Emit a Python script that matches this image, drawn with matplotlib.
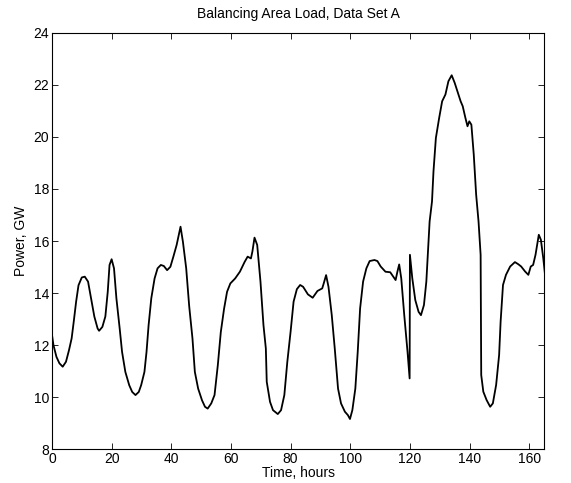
import matplotlib

matplotlib.use("Agg")
import matplotlib.pyplot as plt

# hours and load (GW)
hours = [
    0.0, 0.5, 1.5, 2.5, 3.6, 4.7, 5.7, 6.6, 7.3, 8.1, 8.9, 10.0, 11.0, 12.1,
    13.1, 14.2, 15.3, 15.8, 16.9, 17.9, 18.7, 19.3, 20.0, 20.8, 21.6, 22.7,
    23.5, 24.6, 25.9, 26.9, 28.0, 29.1, 29.9, 31.0, 31.7, 32.4, 33.3, 34.4,
    35.4, 36.5, 37.5, 38.6, 39.7, 40.7, 41.8, 43.1, 43.9, 45.0, 46.0, 47.1,
    47.9, 49.0, 50.3, 51.3, 52.2, 53.4, 54.5, 55.6, 56.6, 57.7, 58.7, 59.8,
    61.4, 63.0, 64.6, 65.6, 66.7, 67.2, 67.9, 68.8, 69.9, 70.9, 71.7, 72.0,
    73.1, 74.1, 75.7, 76.8, 77.9, 78.9, 80.0, 81.0, 82.1, 83.2, 84.2, 85.8,
    87.4, 89.0, 90.6, 91.1, 91.9, 92.7, 93.8, 94.8, 95.9, 96.9, 98.2, 99.2,
    99.9, 100.7, 101.7, 102.5, 103.3, 104.3, 105.4, 106.5, 108.1, 109.1,
    110.2, 111.8, 113.4, 114.4, 115.2, 115.8, 116.4, 117.1, 118.1, 119.2,
    119.9, 120.0, 120.8, 121.8, 122.9, 123.7, 124.7, 125.5, 126.1, 126.6,
    127.4, 127.9, 128.7, 129.8, 130.8, 131.9, 132.9, 134.0, 135.0, 136.1,
    137.0, 137.7, 138.6, 139.3, 139.9, 140.6, 141.4, 142.2, 143.0, 143.7,
    143.9, 144.6, 145.7, 146.9, 147.8, 148.9, 149.9, 150.4, 151.2, 152.2,
    153.6, 155.2, 156.3, 157.3, 158.6, 159.7, 160.5, 161.3, 162.1, 163.2,
    163.9, 164.7, 165.3,
]
load_gw = [
    12.4, 12.0, 11.55, 11.3, 11.17, 11.36, 11.8, 12.26, 12.9, 13.67, 14.3,
    14.6, 14.63, 14.44, 13.8, 13.1, 12.64, 12.55, 12.7, 13.1, 14.05, 15.08,
    15.3, 14.95, 13.8, 12.64, 11.74, 10.97, 10.46, 10.2, 10.08, 10.2, 10.46,
    10.97, 11.74, 12.77, 13.8, 14.56, 14.95, 15.08, 15.04, 14.88, 15.01,
    15.4, 15.85, 16.55, 15.97, 14.95, 13.5, 12.26, 10.97, 10.33, 9.88, 9.63,
    9.56, 9.76, 10.08, 11.23, 12.5, 13.4, 14.05, 14.37, 14.56, 14.82, 15.2,
    15.4, 15.33, 15.6, 16.13, 15.85, 14.44, 12.77, 11.87, 10.59, 9.82, 9.5,
    9.35, 9.5, 10.08, 11.36, 12.52, 13.67, 14.15, 14.31, 14.24, 13.95, 13.82,
    14.08, 14.18, 14.37, 14.69, 14.24, 13.15, 11.87, 10.33, 9.76, 9.44, 9.31,
    9.16, 9.5, 10.33, 11.74, 13.41, 14.44, 14.95, 15.23, 15.27, 15.23, 15.02,
    14.82, 14.8, 14.63, 14.5, 14.82, 15.1, 14.56, 13.15, 11.74, 10.72, 15.47,
    14.56, 13.73, 13.28, 13.15, 13.54, 14.44, 15.72, 16.75, 17.52, 18.68,
    19.96, 20.73, 21.37, 21.63, 22.14, 22.37, 22.08, 21.69, 21.37, 21.18,
    20.73, 20.41, 20.6, 20.47, 19.32, 17.78, 16.75, 15.47, 10.85, 10.21,
    9.89, 9.63, 9.76, 10.47, 11.62, 12.9, 14.31, 14.7, 15.02, 15.19, 15.11,
    15.02, 14.83, 14.7, 15.02, 15.08, 15.47, 16.24, 16.05, 15.34, 14.7,
]

x_ticks = [0, 20, 40, 60, 80, 100, 120, 140, 160]
y_ticks = [8, 10, 12, 14, 16, 18, 20, 22, 24]

plt.rcParams["font.family"] = ["Liberation Sans", "DejaVu Sans"]
plt.rcParams["font.size"] = 10

fig = plt.figure(figsize=(5.71, 4.83), dpi=100)
ax = fig.add_axes((0.091, 0.07, 0.862, 0.862))

ax.plot(hours, load_gw, color="black", linewidth=1.3)

ax.set_xlim(0, 165)
ax.set_ylim(8, 24)
ax.set_xticks(x_ticks)
ax.set_yticks(y_ticks)
ax.tick_params(direction="in", length=4, width=0.6, top=True, right=True, pad=2)
for spine in ax.spines.values():
    spine.set_linewidth(0.8)

ax.set_title("Balancing Area Load, Data Set A", fontsize=10, pad=11)
ax.set_xlabel("Time, hours", labelpad=0)
ax.set_ylabel("Power, GW", labelpad=4)

fig.savefig("out.png", dpi=100)
